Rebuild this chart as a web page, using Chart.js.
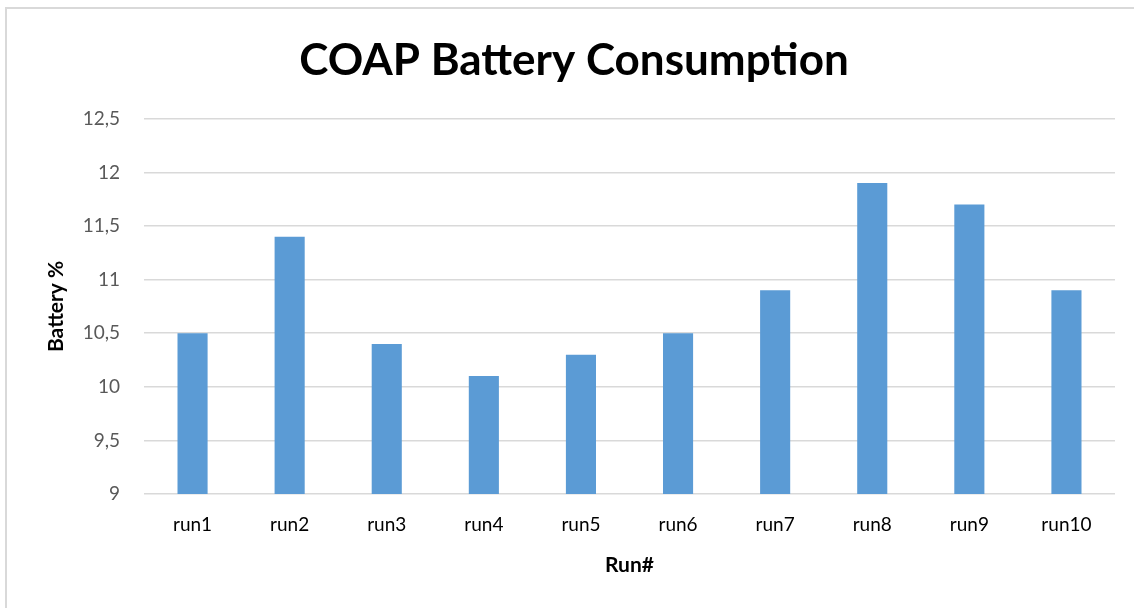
<!DOCTYPE html>
<html>
<head>
<meta charset="utf-8">
<script src="https://cdn.jsdelivr.net/npm/chart.js@4"></script>
<style>
  html, body { margin: 0; padding: 0; background: #fff; overflow: hidden; }
  #frame { position: absolute; left: 5px; top: 7px; width: 1140px; height: 610px;
           border-left: 2px solid #d9d9d9; border-top: 2px solid #d9d9d9; }
  #wrap { position: absolute; left: 0; top: 0; width: 1134px; height: 608px; }
</style>
</head>
<body>
<div id="frame"></div>
<div id="wrap"><canvas id="chart-battery"></canvas></div>
<script>
/* COAP battery consumption per run */

const RUN_LABELS = ['run1', 'run2', 'run3', 'run4', 'run5', 'run6', 'run7', 'run8', 'run9', 'run10'];
const BATTERY_VALUES = [10.5, 11.4, 10.4, 10.1, 10.3, 10.5, 10.9, 11.9, 11.7, 10.9];

const FONT = 'Lato, "Open Sans", sans-serif';

function formatComma(v) {
  return String(v).replace('.', ',');
}

const canvas = document.getElementById('chart-battery');

new Chart(canvas, {
  type: 'bar',
  data: {
    labels: RUN_LABELS,
    datasets: [{
      label: 'Battery %',
      data: BATTERY_VALUES,
      backgroundColor: '#5B9BD5',
      categoryPercentage: 1,
      barPercentage: 0.31,
    }]
  },
  options: {
    responsive: true,
    maintainAspectRatio: false,
    animation: false,
    // left/right padding differ so the title lands where the original sits
    layout: { padding: { left: 33, right: 19, top: 0, bottom: 0 } },
    plugins: {
      legend: { display: false },
      tooltip: { enabled: false },
      title: {
        display: true,
        text: 'COAP Battery Consumption',
        color: '#000',
        font: { family: FONT, size: 44, weight: 'bold', lineHeight: 1.2 },
        padding: { top: 34, bottom: 32 }
      }
    },
    scales: {
      x: {
        grid: { display: false, drawTicks: false },
        border: { display: false },
        ticks: {
          color: '#000',
          font: { family: FONT, size: 19 },
          padding: 19,
          maxRotation: 0
        },
        title: {
          display: true,
          text: 'Run#',
          color: '#000',
          font: { family: FONT, size: 21, weight: 'bold', lineHeight: 1.2 },
          padding: { top: 0, bottom: 30 }
        },
        afterFit: scale => { scale.height = 114; }
      },
      y: {
        min: 9,
        max: 12.5,
        grid: { color: '#d9d9d9', lineWidth: 1.5, drawTicks: false },
        border: { display: false },
        ticks: {
          stepSize: 0.5,
          color: '#595959',
          font: { family: FONT, size: 19 },
          padding: 24,
          callback: v => formatComma(v)
        },
        title: {
          display: true,
          text: 'Battery %',
          color: '#000',
          font: { family: FONT, size: 21, weight: 'bold', lineHeight: 1.2 },
          padding: { top: 11, bottom: 0 }
        },
        afterFit: scale => { scale.width = 111; }
      }
    }
  }
});
</script>
</body>
</html>
